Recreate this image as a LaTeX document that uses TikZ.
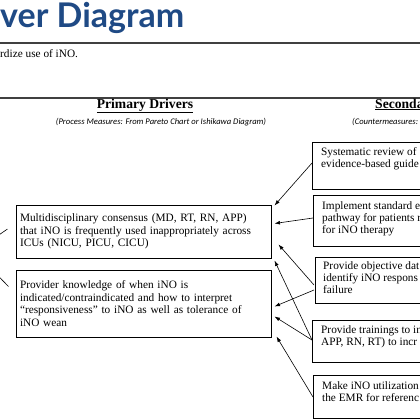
\documentclass[tikz,border=0pt]{standalone}
\usepackage{fontspec}
\setmainfont{Liberation Serif}
\newfontfamily\latofont{Lato}
\newfontfamily\carlitofont{Carlito}
\usetikzlibrary{calc,arrows.meta}
\definecolor{titleblue}{HTML}{1F4A85}
\definecolor{rulegray}{HTML}{404040}
\begin{document}
\begin{tikzpicture}[x=1pt,y=-1pt,
  bodyfont/.style={font=\fontsize{11.3}{12.4}\selectfont},
  pbox/.style={draw,line width=1pt,inner xsep=4pt,inner ysep=0pt,align=left,
    text width=247pt,minimum width=253pt,bodyfont},
  sbox/.style={draw,line width=1pt,anchor=north west,inner sep=0pt,minimum width=200pt},
  stext/.style={anchor=north west,inner sep=0pt,align=left,bodyfont},
  arr/.style={line width=0.6pt,-{Latex[length=5.5pt,width=3.8pt]}},
  rulestyle/.style={draw=rulegray}
]
\useasboundingbox (0,0) rectangle (420,420);
\clip (0,0) rectangle (420,420);

% title and rules
\node[anchor=base west,inner sep=0pt,text=titleblue,
  font=\latofont\bfseries\fontsize{34}{34}\selectfont] (title) at (0,28) {ver Diagram};
\coordinate (r1a) at (0,43); \coordinate (r1b) at (420,43);
\draw[rulestyle,line width=2pt] (r1a) -- (r1b);
\node[anchor=base west,inner sep=0pt,bodyfont] (aim) at (0,57) {rdize use of iNO.};
\coordinate (r2a) at (0,98); \coordinate (r2b) at (420,98);
\draw[rulestyle,line width=1.5pt] (r2a) -- (r2b);

% headers
\node[anchor=base,inner sep=0pt,font=\bfseries\fontsize{13.6}{15}\selectfont] (ph) at (145,108) {\underline{Primary Drivers}};
\node[anchor=base,inner sep=0pt,font=\carlitofont\itshape\fontsize{8.6}{10}\selectfont] (psub) at (161,124) {(Process Measures: From Pareto Chart or Ishikawa Diagram)};
\node[anchor=base west,inner sep=0pt,font=\bfseries\fontsize{13.6}{15}\selectfont] (sh) at (375,108) {\underline{Seconda}};
\node[anchor=base west,inner sep=0pt,font=\carlitofont\itshape\fontsize{8.6}{10}\selectfont] (ssub) at (352,124) {(Countermeasures:};

% primary drivers
\node[pbox,minimum height=53pt] (A) at (143.5,231.5) {Multidisciplinary consensus (MD, RT, RN, APP)\\that iNO is frequently used inappropriately across\\ICUs (NICU, PICU, CICU)};
\node[pbox,minimum height=67pt] (B) at (143.5,303.5) {Provider knowledge of when iNO is\\indicated/contraindicated and how to interpret\\“responsiveness” to iNO as well as tolerance of\\iNO wean};

% secondary drivers
\node[sbox,minimum height=47pt] (s1) at (312,142) {};
\node[stext] (t1) at ($(s1.north west)+(9,5)$) {Systematic review of\\evidence-based guide};
\node[sbox,minimum height=51pt] (s2) at (313,195) {};
\node[stext] (t2) at ($(s2.north west)+(9,6)$) {Implement standard e\\pathway for patients r\\for iNO therapy};
\node[sbox,minimum height=46pt] (s3) at (315,257) {};
\node[stext] (t3) at ($(s3.north west)+(8,4)$) {Provide objective dat\\identify iNO respons\\failure};
\node[sbox,minimum height=42pt] (s4) at (312,320) {};
\node[stext] (t4) at ($(s4.north west)+(9,5)$) {Provide trainings to in\\APP, RN, RT) to incr};
\node[sbox,minimum height=43pt] (s5) at (313,375) {};
\node[stext] (t5) at ($(s5.north west)+(9,6)$) {Make iNO utilization\\the EMR for referenc};

% arrows secondary -> primary
\draw[arr] ($(s1.north west)+(0,21)$) -- ($(A.north east)+(3,1)$);
\draw[arr] ($(s2.north west)+(0,23)$) -- ($(A.north east)+(3,19)$);
\draw[arr] ($(s3.north west)+(-1,28)$) -- ($(A.north east)+(7,40)$);
\draw[arr] ($(s4.north west)+(0,20)$) -- ($(A.south east)+(3,2)$);
\draw[arr] ($(s3.north west)+(-1,33)$) -- ($(B.north east)+(3,37)$);
\draw[arr] ($(s4.north west)+(0,20)$) -- ($(B.north east)+(3,47)$);
\draw[arr] ($(s5.north west)+(0,22)$) -- ($(B.south east)+(5,-1)$);

% primary -> aim (aim box off to the left)
\coordinate (aimA) at (-30,255);
\coordinate (aimB) at (-30,247);
\draw[arr] ($(A.west)+(-8,-2.5)$) -- (aimA);
\draw[arr] ($(B.north west)+(-7,17)$) -- (aimB);
\end{tikzpicture}
\end{document}
